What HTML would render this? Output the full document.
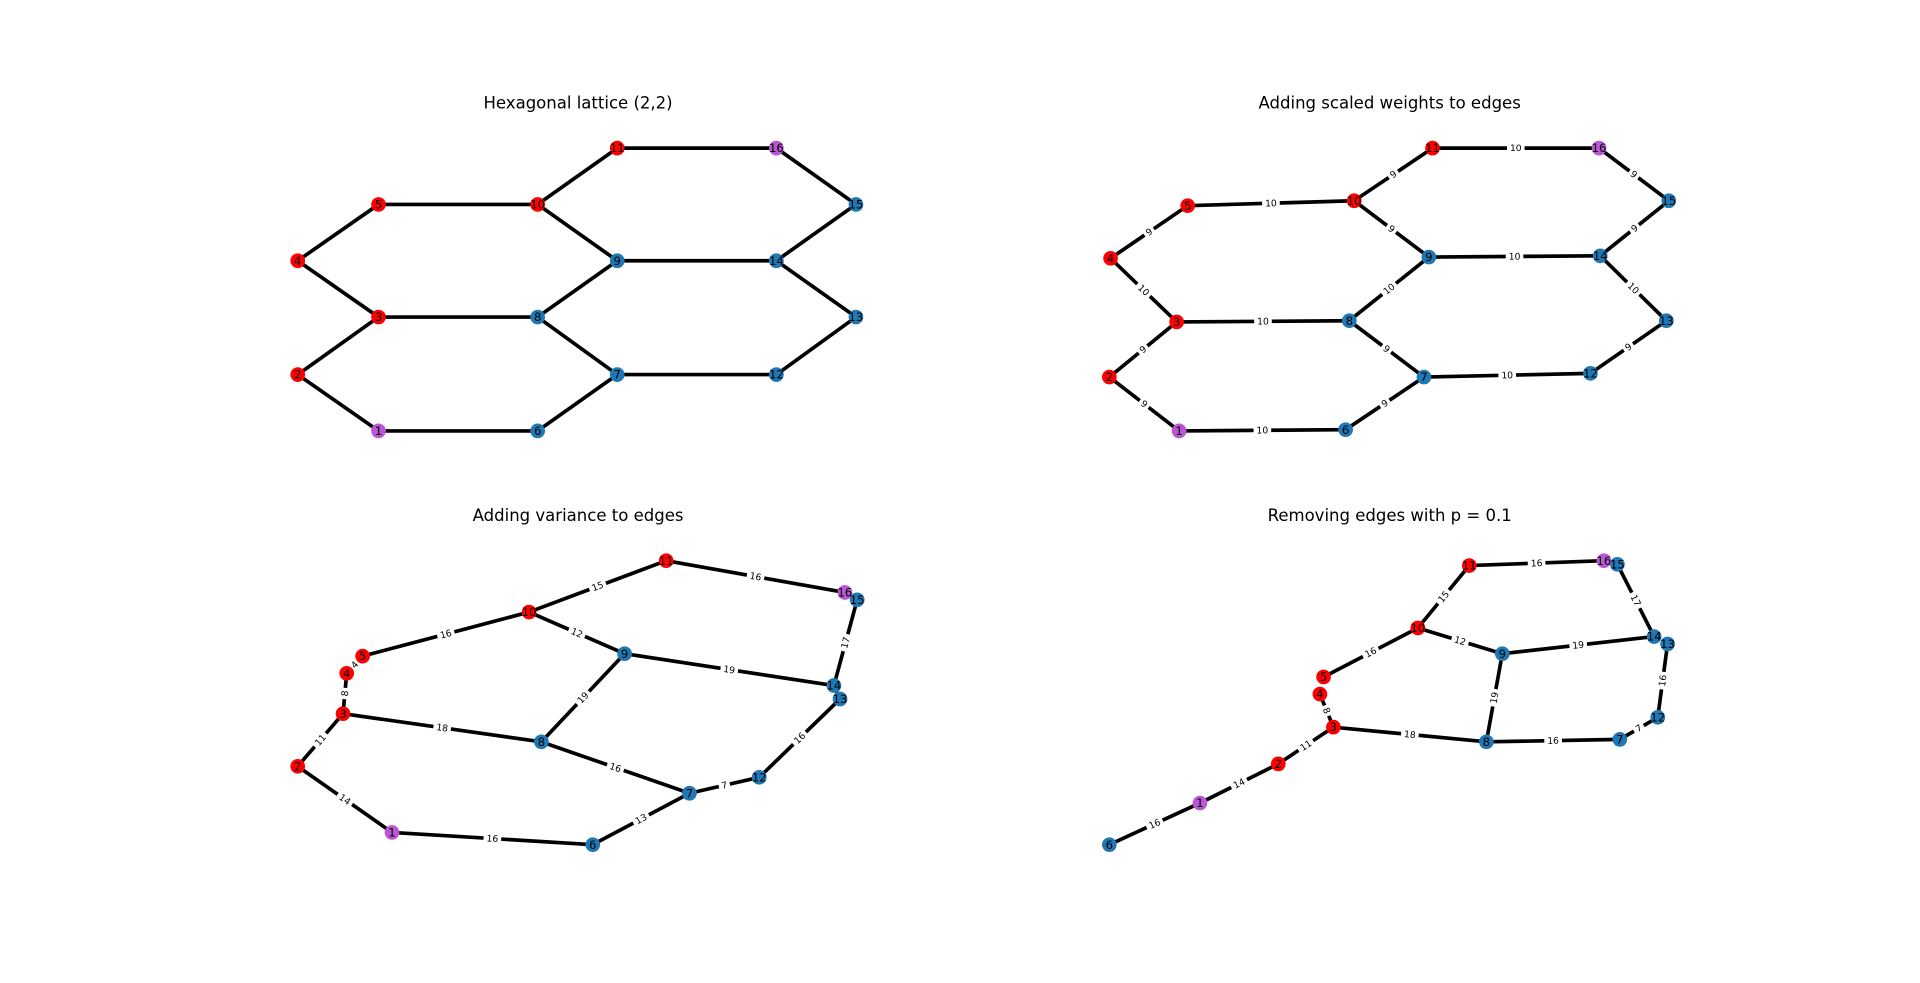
<!DOCTYPE html>
<html><head><meta charset="utf-8">
<style>
html,body{margin:0;padding:0;background:#fff;}
svg{display:block;font-family:"DejaVu Sans","Liberation Sans",sans-serif;}
</style></head>
<body>
<svg id="fig" width="1920" height="983" viewBox="0 0 1568 803" xmlns="http://www.w3.org/2000/svg">
<rect width="1568" height="803" fill="#fff"/>
</svg>
<script>
const colors = {r:"#ff0000", b:"#1f77b4", p:"#ba55d3"};
const nodeColor = {1:"p",2:"r",3:"r",4:"r",5:"r",10:"r",11:"r",16:"p",6:"b",7:"b",8:"b",9:"b",12:"b",13:"b",14:"b",15:"b"};
const titles = ["Hexagonal lattice (2,2)","Adding scaled weights to edges","Adding variance to edges","Removing edges with p = 0.1"];
const titlePos = [[472,85],[1135,85],[472,422],[1135,422]];
const pos1 = {4:[243,213],5:[309,167],10:[439,167],11:[504,121],16:[634,121],15:[699,167],14:[634,213],9:[504,213],3:[309,259],8:[439,259],13:[699,259],2:[243,306],7:[504,306],12:[634,306],1:[309,352],6:[439,352]};
const pos2 = {4:[907,211],5:[970,168],10:[1106,164],11:[1170,121],16:[1306,121],15:[1363,164],14:[1307,209],9:[1167,210],3:[961,263],8:[1102,262],13:[1361,262],2:[906,308],7:[1163,308],12:[1299,305],1:[963,352],6:[1099,351]};
const pos3 = {11:[544,458],16:[690,484],15:[700,490],10:[432,500],5:[296,536],9:[510,534],4:[283,550],3:[280,583],14:[681,560],13:[686,571],8:[442,606],2:[243,626],12:[620,635],7:[563,648],1:[320,680],6:[484,690]};
const pos4 = {11:[1200,462],16:[1310,458],15:[1321,461],10:[1158,513],14:[1351,520],13:[1362,526],9:[1227,534],5:[1081,553],4:[1078,567],3:[1089,594],2:[1044,624],8:[1214,606],7:[1323,604],12:[1354,586],1:[980,656],6:[906,690]};
const edges1 = [[1,2],[2,3],[3,4],[4,5],[5,10],[10,11],[11,16],[16,15],[15,14],[14,9],[9,10],[3,8],[8,9],[8,7],[7,6],[6,1],[7,12],[12,13],[13,14]];
const weights2 = [9,9,10,9,10,9,10,9,9,10,9,10,10,9,9,10,10,9,10];
const edges3 = [[1,2],[2,3],[3,4],[4,5],[5,10],[10,11],[11,16],[16,15],[15,14],[14,9],[9,10],[3,8],[8,9],[8,7],[7,6],[6,1],[7,12],[12,13],[13,14]];
const weights3 = [14,11,8,4,16,15,16,null,17,19,12,18,19,16,13,16,7,16,null];
const edges4 = [[1,2],[2,3],[3,4],[5,10],[10,11],[11,16],[15,14],[14,9],[9,10],[3,8],[8,9],[8,7],[6,1],[7,12],[12,13]];
const weights4 = [14,11,8,16,15,16,17,19,12,18,19,16,16,7,16];

const NS="http://www.w3.org/2000/svg";
const svg=document.getElementById('fig');
function mk(tag,attrs,parent){const e=document.createElementNS(NS,tag);for(const k in attrs)e.setAttribute(k,attrs[k]);(parent||svg).appendChild(e);return e;}

function drawPanel(idx,pos,edges,weights){
  const g=mk('g',{});
  
  
  const t=mk('text',{x:titlePos[idx][0],y:titlePos[idx][1],'text-anchor':'middle','dominant-baseline':'middle','font-size':'13.5',fill:'#000'},g);
  t.textContent=titles[idx];
  
  
  edges.forEach((e,i)=>{
    const a=pos[e[0]],b=pos[e[1]];
    const l=mk('line',{x1:a[0],y1:a[1],x2:b[0],y2:b[1],stroke:'#000','stroke-width':3},g);
    
    
  });
  if(weights){
    edges.forEach((e,i)=>{
      const w=weights[i]; if(w===null||w===undefined) return;
      const a=pos[e[0]],b=pos[e[1]];
      const mx=(a[0]+b[0])/2,my=(a[1]+b[1])/2;
      let ang=Math.atan2(b[1]-a[1],b[0]-a[0])*180/Math.PI;
      if(ang>90)ang-=180; if(ang<-90)ang+=180;
      const lg=mk('g',{transform:`translate(${mx},${my}) rotate(${ang})`},g);
      
      
      const s=String(w);
      mk('rect',{x:-s.length*2.6-2,y:-4.5,width:s.length*5.2+4,height:9,fill:'#fff'},lg);
      const tx=mk('text',{x:0,y:0.5,'text-anchor':'middle','dominant-baseline':'middle','font-size':'7.5',fill:'#000'},lg);
      tx.textContent=s;
    });
  }
  Object.keys(pos).forEach(k=>{
    const p=pos[k];
    const c=mk('circle',{cx:p[0],cy:p[1],r:6,fill:colors[nodeColor[k]]},g);
    
    
    const tx=mk('text',{x:p[0],y:p[1]+0.5,'text-anchor':'middle','dominant-baseline':'middle','font-size':'9.5',fill:'#000'},g);
    tx.textContent=k;
    
    
  });
}
drawPanel(0,pos1,edges1,null);
drawPanel(1,pos2,edges1,weights2);
drawPanel(2,pos3,edges3,weights3);
drawPanel(3,pos4,edges4,weights4);
</script>
</body></html>
